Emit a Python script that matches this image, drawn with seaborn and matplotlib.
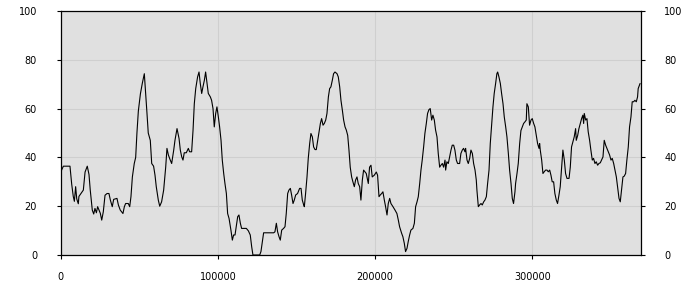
import matplotlib
matplotlib.use("Agg")
import matplotlib.pyplot as plt
import seaborn as sns
import pandas as pd

x_k = [0, 1.7, 5.9, 7.0, 8.0, 8.7, 9.5, 10.2, 11.2, 11.6, 12.9, 14.4, 15.5, 16.9, 18.0, 18.8,
       20.1, 21.0, 21.8, 22.7, 23.5, 24.4, 25.2, 26.1, 27.1, 28.2, 29.5, 30.7, 31.6, 32.8, 33.7,
       35.8, 36.7, 37.9, 39.6, 40.5, 41.3, 43.0, 43.9, 44.7, 45.6, 46.8, 47.7, 48.5, 49.4, 50.7,
       51.9, 53.2, 54.1, 54.9, 55.7, 57.0, 57.9, 59.1, 60.0, 60.8, 62.1, 63.0, 64.2, 65.5, 66.8,
       67.6, 68.5, 69.7, 70.6, 71.9, 72.7, 74.0, 75.3, 76.1, 77.0, 77.8, 78.6, 79.9, 81.2, 82.0,
       83.3, 84.2, 85.0, 85.9, 87.1, 88.0, 88.8, 89.7, 90.5, 91.4, 92.2, 93.1, 93.9, 95.2, 96.0,
       96.9, 97.7, 98.6, 99.4, 100.3, 101.1, 102.0, 102.8, 103.7, 104.5, 105.4, 106.2, 107.1,
       108.3, 109.2, 110.0, 110.9, 111.7, 112.6, 113.4, 114.3, 115.1, 116.4, 118.1, 119.4, 120.6,
       121.5, 122.3, 123.6, 126.6, 127.4, 128.3, 129.1, 132.1, 135.5, 136.3, 137.2, 138.0, 138.9,
       139.7, 140.6, 141.8, 142.7, 143.5, 144.4, 145.2, 146.1, 146.9, 147.8, 148.6, 149.5, 150.7,
       152.0, 152.9, 153.7, 154.6, 155.0, 155.8, 156.7, 157.5, 158.4, 159.2, 160.1, 160.9, 161.8,
       162.6, 163.5, 164.3, 165.2, 166.0, 166.9, 167.7, 168.6, 169.4, 170.3, 171.1, 171.9, 172.8,
       173.6, 174.5, 175.8, 176.6, 177.5, 178.3, 179.2, 180.0, 180.9, 181.7, 182.6, 183.4, 184.2,
       185.1, 185.9, 186.8, 187.6, 188.5, 189.3, 190.2, 190.6, 191.0, 191.9, 192.7, 194.4, 195.7,
       196.5, 197.4, 198.2, 199.5, 200.8, 201.6, 202.5, 203.3, 204.2, 205.0, 205.9, 206.7, 207.6,
       208.4, 209.3, 210.1, 211.4, 212.7, 213.9, 214.8, 215.6, 216.9, 217.7, 218.6, 219.4, 220.3,
       221.1, 222.0, 222.8, 224.1, 225.0, 225.8, 226.7, 227.5, 228.4, 229.2, 230.0, 230.9, 231.7,
       232.6, 233.4, 234.3, 235.1, 236.0, 236.8, 237.7, 238.5, 239.4, 240.2, 241.1, 241.9, 242.8,
       243.6, 244.5, 244.9, 245.7, 246.6, 247.4, 248.3, 249.1, 250.0, 250.8, 251.7, 252.5, 253.8,
       254.6, 255.5, 256.3, 257.2, 257.6, 258.5, 259.3, 260.2, 261.0, 261.9, 262.7, 263.6, 264.4,
       264.8, 265.7, 266.5, 267.4, 268.2, 269.1, 269.9, 270.8, 271.6, 272.5, 273.3, 274.2, 275.0,
       275.8, 276.7, 277.5, 278.0, 278.8, 279.7, 280.5, 281.4, 282.2, 283.1, 283.9, 284.8, 285.6,
       286.5, 287.3, 288.1, 289.0, 289.4, 290.3, 291.1, 292.0, 292.8, 293.7, 294.5, 295.4, 296.2,
       296.6, 297.5, 298.3, 299.2, 300.0, 300.9, 301.7, 302.6, 303.4, 304.3, 304.7, 305.1, 306.0,
       306.8, 307.6, 308.5, 309.4, 310.2, 311.1, 311.9, 312.7, 313.6, 314.4, 315.3, 316.1, 317.0,
       317.8, 318.7, 319.5, 320.4, 321.2, 322.1, 323.4, 324.2, 325.0, 325.9, 326.7, 327.6, 328.0,
       328.9, 329.7, 330.6, 331.4, 332.2, 332.7, 333.1, 334.0, 334.8, 335.6, 336.5, 337.3, 338.2,
       339.0, 339.9, 340.7, 341.6, 342.4, 343.3, 344.1, 345.0, 345.8, 346.7, 347.5, 348.4, 349.2,
       350.1, 350.9, 351.8, 352.6, 353.5, 354.3, 355.2, 356.0, 356.9, 357.7, 358.5, 359.4, 360.2,
       361.1, 361.9, 362.8, 363.6, 364.5, 365.3, 366.2, 367.0, 367.4, 368.6]

values = [34, 36.4, 36.4, 29, 24, 22, 28, 23, 21, 24, 25.2, 26.6, 34, 36.4, 33, 26.6,
          18.4, 16.8, 19.1, 17.3, 19.8, 18.4, 17.1, 14.3, 17.7, 24.5, 25.2, 25.2, 22.5, 19.8, 22.8,
          23.2, 20.5, 18.4, 17.0, 19.8, 21.1, 21.1, 19.8, 23.9, 32, 37.5, 40, 50, 59, 66,
          70.3, 74.3, 66, 58, 50, 47, 37.5, 36.4, 32.7, 28, 22.5, 20, 21.8, 26.6, 36,
          43.7, 41, 38.9, 37.5, 43, 47, 51.8, 47.7, 43, 40.2, 38.9, 41.9, 41.9, 43.7, 42.3,
          42.3, 51.2, 62, 68.2, 73, 75, 70.3, 66.2, 68.9, 71.6, 75, 70.3, 66.2, 64.8, 63.4,
          60, 52.5, 58, 60.7, 56.6, 52.5, 47, 38.9, 33.4, 29.3, 25.2, 17, 15,
          10.2, 6.1, 8.2, 8.2, 11.6, 15.7, 16.4, 13, 10.9, 10.9, 10.9, 9.9, 8.2,
          3.4, 0, 0, 0, 1.4, 5.5, 9.1, 9.1, 9.1, 9.5, 13, 9.5, 7.5,
          6.1, 10.2, 10.9, 11.6, 17, 25.2, 26.6, 27.3, 24.6, 21.1, 22.5, 24.6, 25.2,
          27.3, 27.3, 22.5, 20.5, 19.8, 25.2, 32, 39.6, 45.7, 49.8, 48.4, 44.3, 43.2,
          43.2, 47, 50.5, 53.9, 55.9, 53.2, 53.9, 55.3, 58, 64.8, 68.2, 68.9, 71.6,
          74.3, 75, 74.3, 73, 68.9, 63.4, 59.3, 55.3, 52.5, 51.2, 49, 43, 36,
          32, 30, 28, 30.7, 32, 29.3, 28, 25.2, 22.5, 30.7, 34.8, 33.4, 29.3,
          36, 36.8, 32, 32.7, 34, 32.7, 23.9, 24.6, 25.2, 25.9, 22.5, 19.8, 16.4,
          21.1, 23.2, 21.1, 19.8, 18.4, 17, 14.3, 11.6, 8.9, 7.5, 4.8, 1.4, 2.7,
          5.5, 8.2, 10.2, 10.9, 13, 19.8, 21.8, 23.9, 29.3, 34.8, 38.9, 44.3, 49.8,
          53.9, 58, 59.6, 60, 55.3, 57.3, 55.3, 51.2, 48.4, 41.6, 36, 36.8, 37.5,
          36, 38.9, 34.8, 38.2, 37.5, 40.2, 43, 45, 45, 43, 38.9, 37.5, 37.5,
          41.6, 43, 43.7, 42.3, 43.7, 38.9, 37.5, 39.6, 43, 41.6, 37.5, 34.8, 30.7,
          26.6, 19.8, 20.5, 21.1, 20.5, 21.8, 22.5, 23.9, 29.3, 34.8, 45.7, 53.9, 60.7,
          66.2, 70.3, 74.3, 75, 73, 70.3, 66.2, 62, 56.6, 52.5, 48.4, 41.6, 34.8,
          29.3, 23.2, 21.1, 25.9, 29.3, 33.4, 37.5, 45.7, 51, 52.5, 53.9, 54.6, 55.3,
          62, 60.7, 53.2, 55.3, 55.9, 53.9, 52.5, 49, 45.7, 43.7, 45.7, 43, 38.9,
          33.4, 34.1, 34.8, 34.8, 34.1, 34.8, 32.7, 30, 30, 25.2, 22.5, 21.1, 24.6,
          28, 36, 43, 38.9, 33.4, 31.4, 31.4, 36, 44.3, 46.4, 48.4, 51.8, 47,
          49, 51.8, 53.9, 55.9, 57.3, 53.9, 58, 55.3, 55.9, 50.5, 47, 43, 38.9,
          39.6, 37.5, 38.2, 36.8, 37.5, 37.8, 38.9, 40.2, 47, 45, 43.7, 42.3, 41,
          38.9, 39.6, 37.5, 34.8, 32, 28, 23.2, 21.8, 27.3, 32, 32.3, 33.4, 38.9,
          44.3, 52.5, 56.6, 62.8, 62.8, 63.4, 62.8, 64.8, 68.2, 70.3]

x_ticks = [0, 100000, 200000, 300000]
x_tick_labels = ["0", "100000", "200000", "300000"]
y_ticks = [0, 20, 40, 60, 80, 100]
y_tick_labels = ["0", "20", "40", "60", "80", "100"]

df = pd.DataFrame({"x": [v * 1000 for v in x_k], "y": values})

sns.set_style("ticks")
plt.rcParams["font.family"] = ["DejaVu Sans"]

fig = plt.figure(figsize=(7, 3), dpi=100)
ax = fig.add_axes([60.7 / 700, 45 / 300, 580 / 700, 244 / 300])
ax.set_facecolor("#e0e0e0")

sns.lineplot(data=df, x="x", y="y", ax=ax, color="black", linewidth=0.8,
             estimator=None, sort=False, zorder=3)

ax.set_xlim(0, 369000)
ax.set_ylim(0, 100)
ax.set_xticks(x_ticks)
ax.set_xticklabels(x_tick_labels)
ax.set_yticks(y_ticks)
ax.set_yticklabels(y_tick_labels)
ax.set_xlabel("")
ax.set_ylabel("")

ax.grid(True, color="#cfcfcf", linewidth=0.8, zorder=0)
ax.set_axisbelow(True)

for s in ax.spines.values():
    s.set_color("black")
    s.set_linewidth(0.9)
    s.set_visible(True)

ax.tick_params(axis="y", which="both", left=True, right=True, labelleft=True,
               labelright=True, direction="out", length=3, width=0.8,
               labelsize=7, pad=14, colors="black")
ax.tick_params(axis="x", direction="out", length=3, width=0.8, labelsize=7,
               pad=9, colors="black")

fig.savefig("out.png", dpi=100)
